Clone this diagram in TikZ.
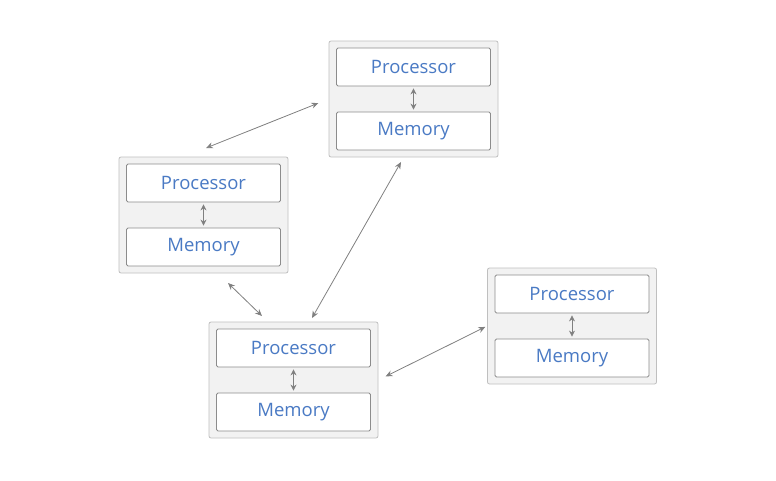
\documentclass[tikz,border=0pt]{standalone}
\usepackage{fontspec}
\setmainfont{Open Sans}
\usetikzlibrary{arrows.meta}

\definecolor{labelblue}{RGB}{74,122,196}

\tikzset{
  unit/.style={draw=black!25, fill=black!5, rounded corners=2pt, line width=0.8pt,
    minimum width=169pt, minimum height=116pt},
  part/.style={draw=black!45, fill=white, rounded corners=1.5pt, line width=0.8pt,
    minimum width=154pt, minimum height=38pt, text=labelblue,
    font=\fontsize{18.5}{20}\selectfont},
  link/.style={draw=black!50, line width=0.8pt, {Stealth[length=7pt,width=6pt]}-{Stealth[length=7pt,width=6pt]}},
}

\begin{document}
\begin{tikzpicture}[x=1pt, y=-1pt]
\useasboundingbox (0,0) rectangle (776,480);

\foreach \n/\x/\y in {top/413.5/99, left/203.5/215, bottom/293.5/380, right/572/326} {
  \node[unit] (\n) at (\x,\y) {};
  \node[part] (\n-cpu) at (\x,\y-32) {Processor};
  \node[part] (\n-mem) at (\x,\y+32) {Memory};
  \draw[link, {Stealth[length=6pt,width=6pt]}-{Stealth[length=6pt,width=6pt]}] ([yshift=-2pt]\n-cpu.south) -- ([yshift=2pt]\n-mem.north);
}

%%%%%%%%%%%%%%%%%%%%%%%%%%%%%%%%%%%%%%%%

\coordinate (tl1) at (206,148);
\coordinate (lb1) at (228,283);
\coordinate (lb2) at (262,316);
\coordinate (bt1) at (312,318);
\coordinate (bt2) at (401,162);

\draw[link, shorten >=11pt] (tl1) -- (top.west);
\draw[link] (lb1) -- (lb2);
\draw[link] (bt1) -- (bt2);
\draw[link, shorten <=8pt, shorten >=2pt] (bottom.east) -- (right.west);

\end{tikzpicture}
\end{document}
